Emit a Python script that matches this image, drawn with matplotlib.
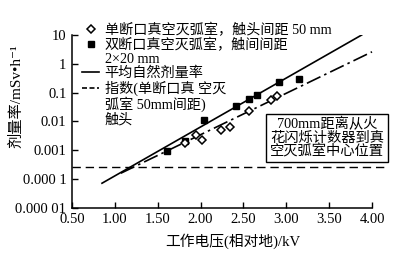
import matplotlib
matplotlib.use("Agg")
import matplotlib.pyplot as plt
from matplotlib.lines import Line2D

# ---- data ----
single_v = [1.82, 1.95, 2.02, 2.24, 2.34, 2.56, 2.82, 2.89]
single_rate = [0.0018, 0.0034, 0.0022, 0.005, 0.0064, 0.023, 0.055, 0.076]
double_v = [1.61, 1.82, 2.04, 2.41, 2.56, 2.66, 2.91, 3.15]
double_rate = [0.00093, 0.0021, 0.011, 0.034, 0.06, 0.083, 0.23, 0.30]
fit_double_v = [0.85, 3.88]
fit_double_rate = [7.2e-5, 10.0]
fit_single_v = [1.07, 4.0]
fit_single_rate = [1.6e-4, 2.6]
natural_v = [0.5, 4.17]
natural_rate = [2.6e-4, 2.6e-4]
xticks = [0.5, 1.0, 1.5, 2.0, 2.5, 3.0, 3.5, 4.0]
xticklabels = ["0.50", "1.00", "1.50", "2.00", "2.50", "3.00", "3.50", "4.00"]
yticks = [1e-5, 1e-4, 1e-3, 1e-2, 1e-1, 1, 10]
yticklabels = ["0.000 01", "0.000 1", "0.001", "0.01", "0.1", "1", "10"]

FAM = ["Liberation Serif", "Noto Sans CJK SC", "DejaVu Sans"]
plt.rcParams["font.family"] = FAM

fig = plt.figure(figsize=(4.0, 2.69), dpi=100)
ax = fig.add_axes([0.18, 0.227, 0.75, 0.643])

ax.plot(fit_double_v, fit_double_rate, color="black", lw=1.2)
ax.plot(fit_single_v, fit_single_rate, color="black", lw=1.2,
        dashes=(9, 2.5, 1.5, 2.5), clip_on=False)
ax.plot(natural_v, natural_rate, color="black", lw=1.0, dashes=(6, 3.5),
        clip_on=False)
ax.plot(double_v, double_rate, ls="none", marker="s", ms=4.5,
        color="black")
ax.plot(single_v, single_rate, ls="none", marker="D", ms=3.8,
        mfc="white", mec="black", mew=1.1)

ax.set_yscale("log")
ax.set_xlim(0.5, 4.0)
ax.set_ylim(1e-5, 10)
ax.set_xticks(xticks)
ax.set_xticklabels(xticklabels)
ax.set_yticks(yticks)
ax.set_yticklabels(yticklabels)
ax.minorticks_off()
ax.tick_params(direction="in", length=4, width=1, labelsize=10.5, pad=4)
for s in ["top", "right"]:
    ax.spines[s].set_visible(False)
for s in ["left", "bottom"]:
    ax.spines[s].set_linewidth(1.1)

blank = Line2D([], [], ls="none")
handles = [
    Line2D([], [], ls="none", marker="D", ms=3.8, mfc="white", mec="black", mew=1.1),
    Line2D([], [], ls="none", marker="s", ms=4.5, color="black"),
    blank,
    Line2D([], [], color="black", lw=1.2),
    Line2D([], [], color="black", lw=1.2, dashes=(3, 1.5)),
    blank,
    blank,
]
labels = [
    "单断口真空灭弧室，触头间距 50 mm",
    "双断口真空灭弧室，触间间距",
    "2×20 mm",
    "平均自然剂量率",
    "指数(单断口真 空灭",
    "弧室 50mm间距)",
    "触头",
]
leg = fig.legend(handles, labels, loc="upper left",
                 bbox_to_anchor=(0.205, 0.915), frameon=False,
                 prop={"family": FAM, "size": 10.2}, handlelength=1.2,
                 handletextpad=0.4, labelspacing=0.05, borderaxespad=0,
                 borderpad=0)

fig.text(327 / 400, 1 - 138 / 269,
         "700mm距离从火\n花闪烁计数器到真\n空灭弧室中心位置",
         ha="center", va="center", fontsize=10.3, linespacing=1.0,
         bbox=dict(boxstyle="square,pad=0.25", fc="white", ec="black", lw=1.0))

fig.text(0.04, 1 - 96 / 269, "剂量率/mSv•h⁻¹", rotation=90,
         ha="center", va="center", fontsize=11)
fig.text(233 / 400, 1 - 241 / 269, "工作电压(相对地)/kV",
         ha="center", va="center", fontsize=10.6)

fig.savefig("out.png", dpi=100)
